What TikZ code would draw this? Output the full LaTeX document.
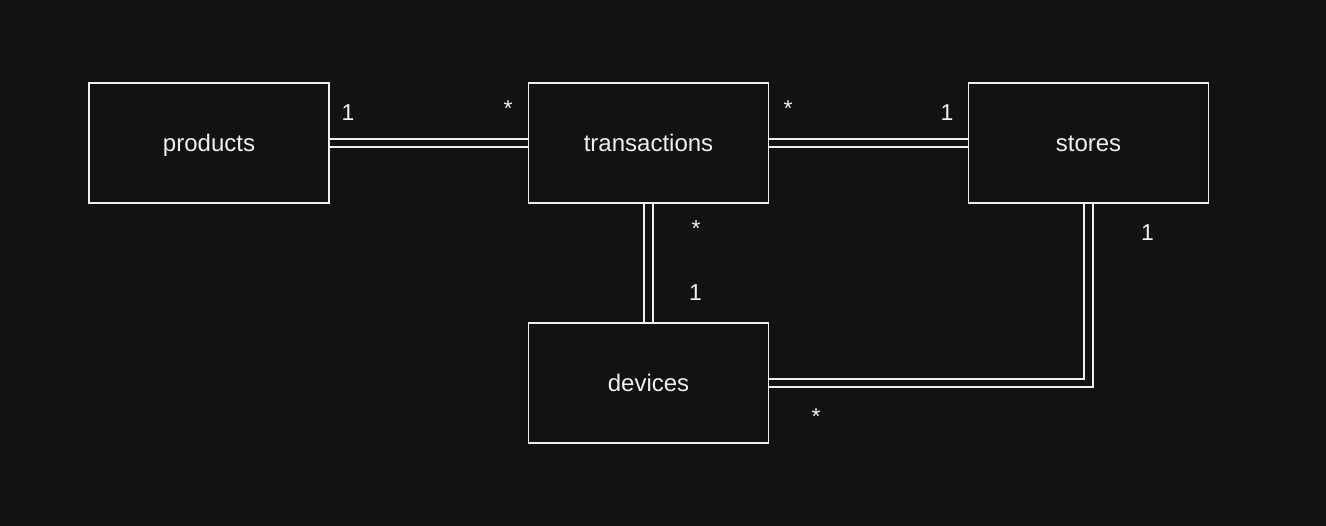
\documentclass[tikz,border=0pt]{standalone}
\usepackage{fontspec}
\setmainfont{Liberation Sans}
\definecolor{bg}{HTML}{121212}
\definecolor{fg}{HTML}{F0F0F0}
\begin{document}
\begin{tikzpicture}[x=1pt,y=-1pt,
  entity/.style={draw=fg,line width=1.8pt,minimum width=240pt,minimum height=120pt,inner sep=0pt,text=fg,text height=22pt,text depth=4pt,font=\fontsize{24}{27}\selectfont},
  rel/.style={draw=fg,line width=1.9pt,double=bg,double distance=6.3pt},
  card/.style={text=fg,anchor=base,inner sep=0pt,font=\fontsize{23}{26}\selectfont},
  star/.style={card,yshift=4pt}]
\fill[bg] (0,0) rectangle (1326,526);
\useasboundingbox (0,0) rectangle (1326,526);
\node[entity] (products) at (209,143) {products};
\node[entity] (transactions) at (648.5,143) {transactions};
\node[entity] (stores) at (1088.5,143) {stores};
\node[entity] (devices) at (648.5,383) {devices};
\draw[rel] (products.east) -- (transactions.west);
\draw[rel] (transactions.east) -- (stores.west);
\draw[rel] (transactions.south) -- (devices.north);
\draw[rel] (stores.south) |- (devices.east);
\node[card] (c1) at (348,121) {1};
\node[star] (c2) at (508,121) {*};
\node[star] (c3) at (788,121) {*};
\node[card] (c4) at (947,121) {1};
\node[star] (c5) at (696,241) {*};
\node[card] (c6) at (695.5,301) {1};
\node[card] (c7) at (1147.5,241) {1};
\node[star] (c8) at (816,429) {*};
\end{tikzpicture}
\end{document}
